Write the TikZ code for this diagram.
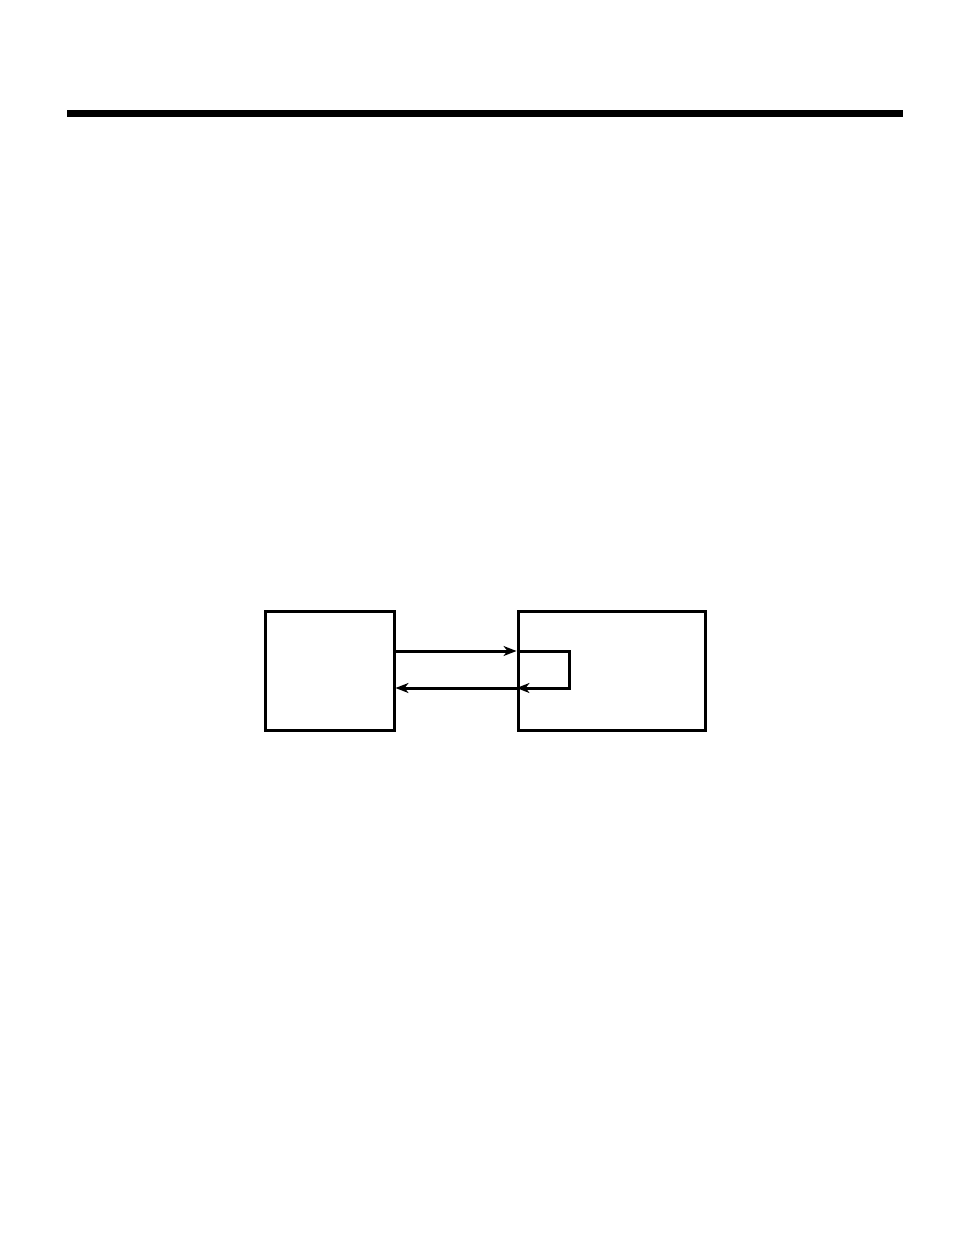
\documentclass[tikz,border=0pt]{standalone}
\usetikzlibrary{positioning,arrows.meta}
\begin{document}
\begin{tikzpicture}[x=1pt,y=-1pt,>={Stealth[length=13pt,width=10pt,inset=4pt]}, line join=miter, line cap=butt]
				\useasboundingbox (0,0) rectangle (954,1256);
				\tikzset{blk/.style={draw,line width=3pt,minimum height=119pt,inner sep=0pt},
					lnk/.style={line width=3pt}}
				\fill (67,110) rectangle (903,117); % top rule
				\node[blk,minimum width=129pt] (lbox) at (329.5,670.5) {};
				\node[blk,minimum width=187pt] (rbox) at (611.5,670.5) {};
				\coordinate (turnA) at (569,651);
				\coordinate (turnB) at (569,688);
				\draw[lnk,->] (lbox.east |- turnA)--(rbox.west |- turnA);
				\draw[lnk,->] (rbox.west |- turnA)--(turnA)--(turnB)--(rbox.west |- turnB);
				\draw[lnk,->] (rbox.west |- turnB)--(lbox.east |- turnB);
			\end{tikzpicture}
\end{document}
